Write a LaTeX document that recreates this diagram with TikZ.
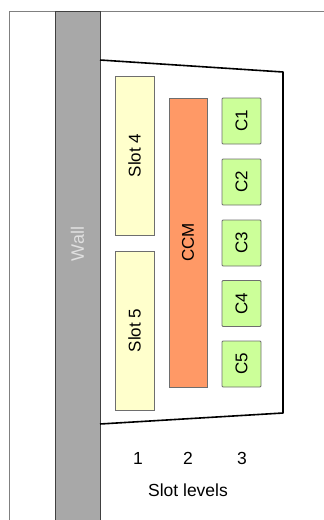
\documentclass[tikz,border=0pt]{standalone}
\usepackage{fontspec}
\setmainfont{Liberation Sans}
\usepackage{tikz}
\definecolor{wallc}{HTML}{A8A8A8}
\definecolor{slotc}{HTML}{FFFFCC}
\definecolor{ccmc}{HTML}{FF9966}
\definecolor{cardc}{HTML}{CCFF99}
\definecolor{edgec}{HTML}{6E6E6E}

\begin{document}
\begin{tikzpicture}[x=1pt,y=-1pt,
  box/.style={draw=edgec,line width=0.9pt,inner sep=0pt,rotate=90,
    font=\fontsize{17}{19}\selectfont,text=black},
  slotbox/.style={box,fill=slotc,minimum width=159,minimum height=39},
  ccmbox/.style={box,fill=ccmc,minimum width=289,minimum height=38},
  cardbox/.style={box,fill=cardc,rounded corners=1pt,minimum width=46,minimum height=39},
  lab/.style={font=\fontsize{17.5}{19}\selectfont,text=black,inner sep=0pt}]
\useasboundingbox (0,0) rectangle (324,520);
% outer frame
\draw[gray,line width=1pt] (9,525) -- (9,11) -- (330,11);
% wall
\node[draw=black!75,fill=wallc,line width=1pt,minimum width=45,minimum height=525,
  inner sep=0pt,anchor=north west] (wall) at (55,11) {};
\node[text=white!88!black,rotate=90,font=\fontsize{18}{20}\selectfont] (walltxt) at (77.5,244) {Wall};
% rack
\draw[black,line width=1.6pt,line join=round] (100,60) -- (283,72) -- (283,413) -- (100,424);
% level 1
\node[slotbox] (s4) at (134.5,155.5) {Slot 4};
\node[slotbox] (s5) at (134.5,330.5) {Slot 5};
% level 2
\node[ccmbox] (ccm) at (188,242.5) {CCM};
% level 3
\foreach \i/\y in {1/121,2/182,3/243,4/303.5,5/364}
  \node[cardbox] (c\i) at (241.5,\y) {C\i};
% levels
\node[lab] (l1) at (138,458) {1};
\node[lab] (l2) at (188,458) {2};
\node[lab] (l3) at (242,458) {3};
\node[lab] (lvl) at (188,490) {Slot levels};
\end{tikzpicture}
\end{document}
